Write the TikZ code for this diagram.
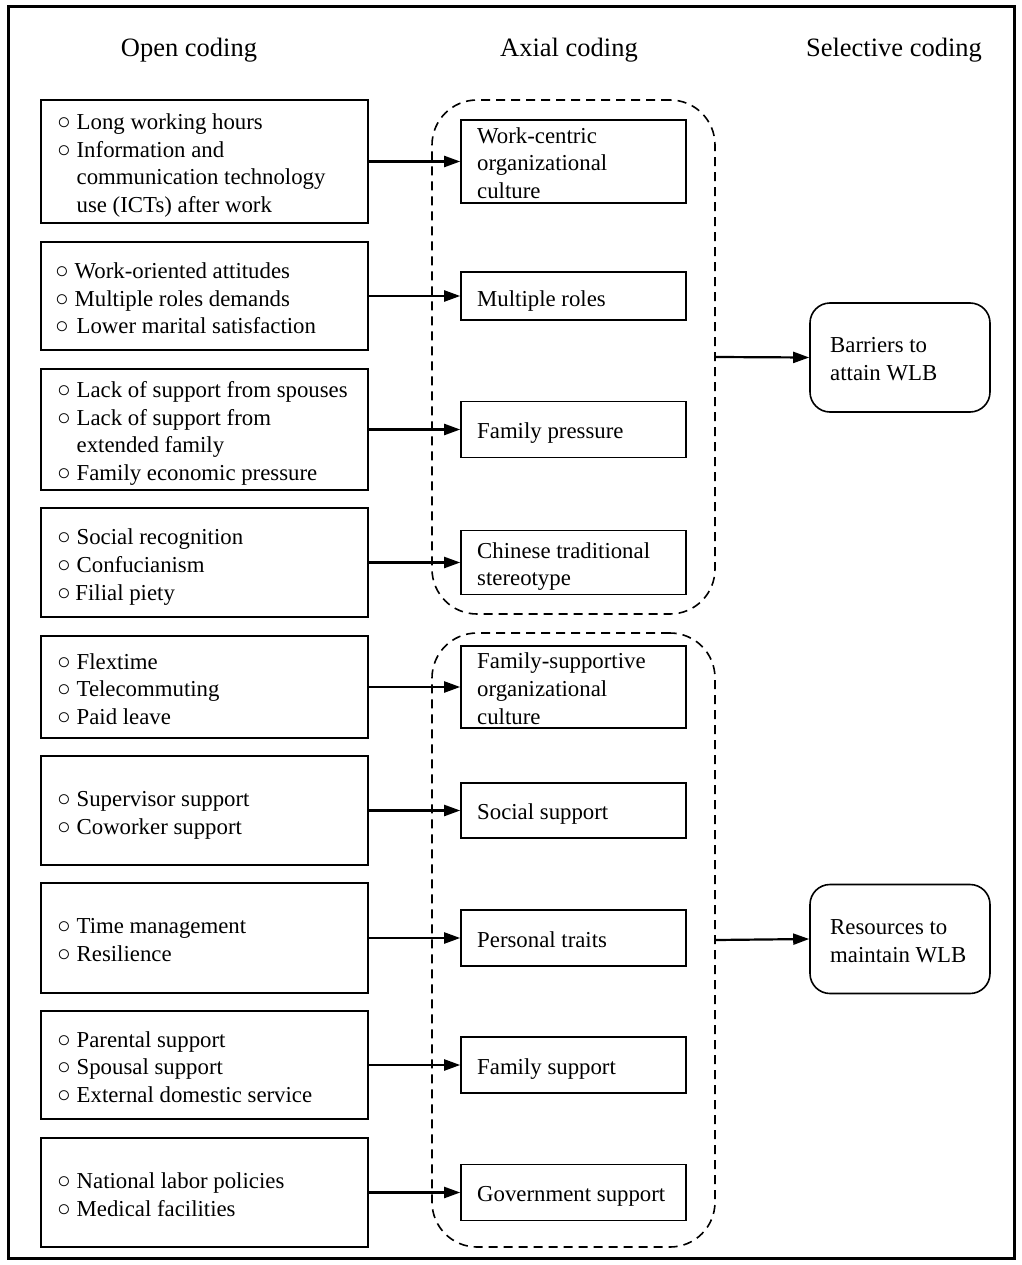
\documentclass[tikz,border=0pt]{standalone}
\usepackage{fontspec}
\setmainfont{Liberation Serif}
\usetikzlibrary{arrows.meta}
\newcommand\bl{○\ }
\newcommand\ind{\phantom{○}\ }
\begin{document}
\begin{tikzpicture}[x=1pt,y=-1pt,
  every node/.style={font=\fontsize{22.8}{27.7}\selectfont},
  heading/.style={anchor=base, font=\fontsize{26.5}{30}\selectfont},
  leftbox/.style={draw, line width=1.6pt, minimum width=327pt, inner sep=0pt, minimum height=#1},
  midbox/.style={draw, line width=1.6pt, minimum width=225pt, inner sep=0pt, minimum height=#1},
  dashbox/.style={draw, line width=1.6pt, dash pattern=on 9pt off 6pt, rounded corners=45pt, minimum width=283pt, minimum height=#1, inner sep=0pt},
  rightbox/.style={draw, line width=1.6pt, rounded corners=20pt, minimum width=180pt, inner sep=0pt, minimum height=109pt},
  txt/.style={anchor=west, align=left, inner sep=0pt, yshift=-1.5pt},
  conn/.style={line width=2.2pt, -{Triangle[length=16pt,width=11pt]}}
]
\useasboundingbox (0,0) rectangle (1021,1265);
\draw[line width=3pt] (8,7) rectangle (1014,1258);

\node[heading] (h1) at (189,57) {Open coding};
\node[heading] (h2) at (569,57) {Axial coding};
\node[heading] (h3) at (894,57) {Selective coding};

% left boxes
\node[leftbox=123pt] (l1) at (204.5,161.5) {};
\node[leftbox=108pt] (l2) at (204.5,296) {};
\node[leftbox=121pt] (l3) at (204.5,429.5) {};
\node[leftbox=109pt] (l4) at (204.5,562.5) {};
\node[leftbox=102pt] (l5) at (204.5,687) {};
\node[leftbox=109pt] (l6) at (204.5,810.5) {};
\node[leftbox=110pt] (l7) at (204.5,938) {};
\node[leftbox=108pt] (l8) at (204.5,1065) {};
\node[leftbox=109pt] (l9) at (204.5,1192.5) {};

\node[txt] (tl1) at (57,164) {\bl Long working hours\\\bl Information and\\\ind communication technology\\\ind use (ICTs) after work};
\node[txt] (tl2) at (55,297) {\bl Work-oriented attitudes\\\bl Multiple roles demands\\\bl\hspace{2pt}Lower marital satisfaction};
\node[txt] (tl3) at (57,432) {\bl Lack of support from spouses\\\bl Lack of support from\\\ind extended family\\\bl Family economic pressure};
\node[txt] (tl4) at (57,565.5) {\bl Social recognition\\\bl Confucianism\\○\hspace{4.5pt}Filial piety};
\node[txt] (tl5) at (57,687.5) {\bl Flextime\\\bl Telecommuting\\\bl Paid leave};
\node[txt] (tl6) at (57,814) {\bl Supervisor support\\\bl Coworker support};
\node[txt] (tl7) at (57,938.5) {\bl Time management\\\bl Resilience};
\node[txt] (tl8) at (57,1065.5) {\bl Parental support\\\bl Spousal support\\\bl External domestic service};
\node[txt] (tl9) at (57,1193) {\bl National labor policies\\\bl Medical facilities};

% dashed groups
\node[dashbox=514pt] (d1) at (573.5,357) {};
\node[dashbox=614pt] (d2) at (573.5,940) {};

% middle boxes
\node[midbox=83pt] (m1) at (573.5,161.5) {};
\node[midbox=48pt] (m2) at (573.5,296) {};
\node[midbox=56pt] (m3) at (573.5,429.5) {};
\node[midbox=64pt] (m4) at (573.5,562.5) {};
\node[midbox=82pt] (m5) at (573.5,687) {};
\node[midbox=55pt] (m6) at (573.5,810.5) {};
\node[midbox=56pt] (m7) at (573.5,938) {};
\node[midbox=56pt] (m8) at (573.5,1065) {};
\node[midbox=56pt] (m9) at (573.5,1192.5) {};

\node[txt] (tm1) at (477,161.5) {Work-centric\\organizational\\culture};
\node[txt] (tm2) at (477,299.5) {Multiple roles};
\node[txt] (tm3) at (477,432) {Family pressure};
\node[txt] (tm4) at (477,565) {Chinese traditional\\stereotype};
\node[txt] (tm5) at (477,687) {Family-supportive\\organizational\\culture};
\node[txt] (tm6) at (477,813) {Social support};
\node[txt] (tm7) at (477,938.5) {Personal traits};
\node[txt] (tm8) at (477,1067.5) {Family support};
\node[txt] (tm9) at (477,1195) {Government support};

% right boxes
\node[rightbox] (r1) at (900,357.5) {};
\node[rightbox] (r2) at (900,939) {};
\node[txt] (tr1) at (830,357.5) {Barriers to\\attain WLB};
\node[txt] (tr2) at (830,940) {Resources to\\maintain WLB};

% connectors
\foreach \i in {1,...,9} {\draw[conn] (l\i.east) -- (m\i.west);}
\draw[conn] (d1.east) -- (r1.west);
\draw[conn] (d2.east) -- (r2.west);
\end{tikzpicture}
\end{document}
